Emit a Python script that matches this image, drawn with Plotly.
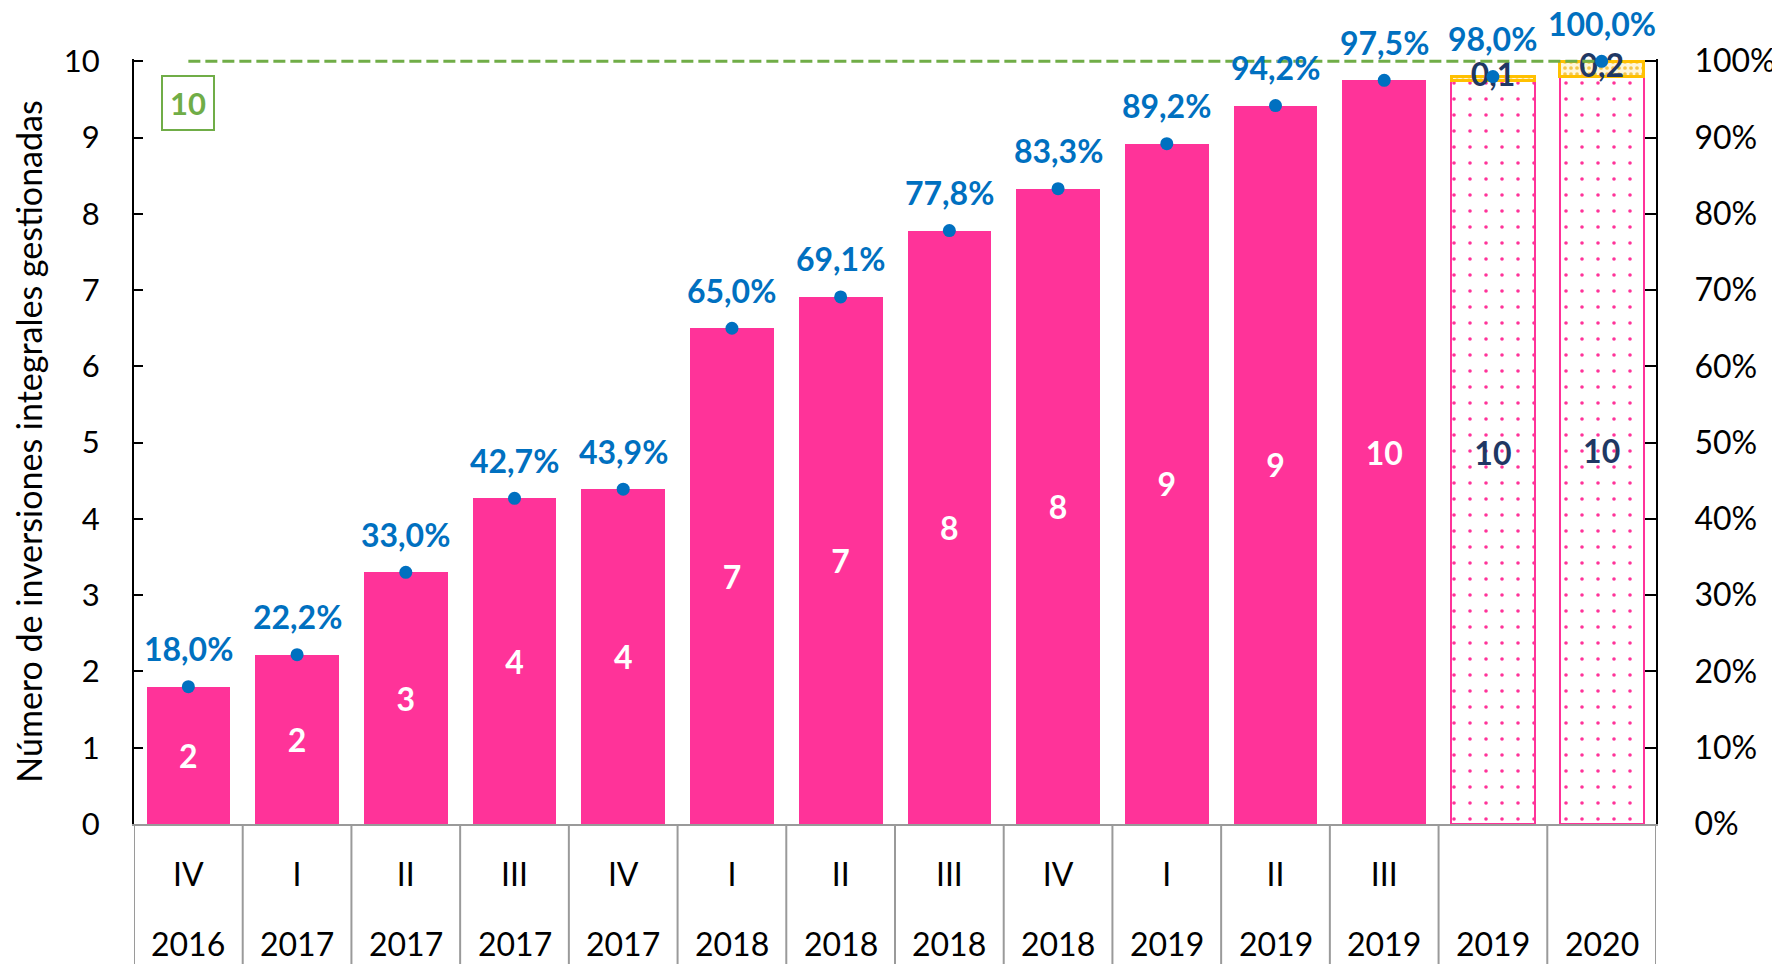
import plotly.graph_objects as go

# ---------------- data ----------------
quarters = ["IV", "I", "II", "III", "IV", "I", "II", "III", "IV", "I", "II", "III", "", ""]
years = ["2016", "2017", "2017", "2017", "2017", "2018", "2018", "2018", "2018",
         "2019", "2019", "2019", "2019", "2020"]
categories = [f"{q} {y}".strip() + ("*" if q == "" else "") for q, y in zip(quarters, years)]

solid_values = [1.80, 2.22, 3.30, 4.27, 4.39, 6.50, 6.91, 7.78, 8.33, 8.92, 9.42, 9.75]
solid_labels = ["2", "2", "3", "4", "4", "7", "7", "8", "8", "9", "9", "10"]

planned_values = [9.75, 9.80]
planned_labels = ["10", "10"]

extra_values = [0.05, 0.20]
extra_labels = ["0,1", "0,2"]

pct_values = [18.0, 22.2, 33.0, 42.7, 43.9, 65.0, 69.1, 77.8, 83.3, 89.2, 94.2, 97.5, 98.0, 100.0]
pct_labels = [f"{v:.1f}".replace(".", ",") + "%" for v in pct_values]

target = 10
target_label = "10"

y_ticks = list(range(0, 11))
y2_ticks = list(range(0, 101, 10))
y2_ticktext = [f"{v}%" for v in y2_ticks]

# ---------------- style ----------------
FONT = "Lato"
PINK = "#FF3399"
BLUE = "#0070C0"
NAVY = "#1F3864"
GREEN = "#70AD47"
GOLD = "#FFC000"
GRAY = "#9A9A9A"
Y_TOP = 10.03   # a hair above 10 so the dashed target line is not clipped

solid_cats = categories[:len(solid_values)]
planned_cats = categories[len(solid_values):]

fig = go.Figure()

fig.add_trace(go.Bar(
    x=solid_cats, y=solid_values, text=solid_labels,
    textposition="inside", insidetextanchor="middle",
    textfont=dict(family=FONT, size=32, color="white", weight="bold"),
    marker=dict(color=PINK, line=dict(width=0)),
    constraintext="none", showlegend=False, hoverinfo="skip",
))

fig.add_trace(go.Bar(
    x=planned_cats, y=planned_values, text=planned_labels,
    textposition="inside", insidetextanchor="middle",
    textfont=dict(family=FONT, size=32, color=NAVY, weight="bold"),
    marker=dict(color=PINK, line=dict(width=2, color=PINK),
                pattern=dict(shape=".", fillmode="replace", bgcolor="white",
                             fgcolor=PINK, size=16, solidity=0.04)),
    constraintext="none", showlegend=False, hoverinfo="skip",
))

fig.add_trace(go.Bar(
    x=planned_cats, y=extra_values,
    marker=dict(color=GOLD, line=dict(width=3, color=GOLD),
                pattern=dict(shape=".", fillmode="replace", bgcolor="#FFF6DA",
                             fgcolor="#F5C84A", size=6, solidity=0.3)),
    showlegend=False, hoverinfo="skip",
))

# labels of the small top segments
fig.add_trace(go.Scatter(
    x=planned_cats, y=[p + e / 2 for p, e in zip(planned_values, extra_values)],
    mode="text", text=extra_labels, textposition="middle center",
    textfont=dict(family=FONT, size=32, color=NAVY, weight="bold"),
    showlegend=False, hoverinfo="skip", cliponaxis=False,
))

# target line
fig.add_trace(go.Scatter(
    x=categories, y=[target] * len(categories), mode="lines",
    line=dict(color=GREEN, width=3, dash="12px,5px"),
    showlegend=False, hoverinfo="skip", cliponaxis=False,
))

# percentage markers
fig.add_trace(go.Scatter(
    x=categories, y=pct_values, yaxis="y2", mode="markers",
    marker=dict(color=BLUE, size=13),
    showlegend=False, hoverinfo="skip", cliponaxis=False,
))

annotations = []
for c, v, t in zip(categories, pct_values, pct_labels):
    annotations.append(dict(x=c, y=v, xref="x", yref="y2", text=t, showarrow=False,
                            yshift=38, font=dict(family=FONT, size=32, color=BLUE, weight="bold")))
for c, yv in zip(categories, years):
    annotations.append(dict(x=c, y=-0.156, xref="x", yref="paper", text=yv, showarrow=False,
                            yanchor="middle", font=dict(family=FONT, size=32, color="black")))
annotations.append(dict(x=categories[0], y=9.45, xref="x", yref="y", text=target_label,
                        showarrow=False, font=dict(family=FONT, size=31, color=GREEN, weight="bold"),
                        bordercolor=GREEN, borderwidth=2, borderpad=7, bgcolor="white"))

shapes = []
for i in range(len(categories) + 1):
    shapes.append(dict(type="line", xref="x", yref="paper", x0=i - 0.5, x1=i - 0.5,
                       y0=0, y1=-0.25, line=dict(color=GRAY, width=2)))

# the page body adds an 8 px offset; compensate in size and margins
fig.update_layout(
    width=1772, height=956,
    margin=dict(l=126, r=124, t=51, b=140, autoexpand=False),
    paper_bgcolor="white", plot_bgcolor="white",
    barmode="stack", bargap=0.23,
    font=dict(family=FONT, size=30, color="black"),
    xaxis=dict(type="category", categoryorder="array", categoryarray=categories,
               tickvals=categories, ticktext=quarters, ticks="",
               tickfont=dict(family=FONT, size=32, color="black"),
               ticklabelstandoff=22,
               showline=True, linecolor=GRAY, linewidth=2, showgrid=False,
               range=[-0.5, len(categories) - 0.5]),
    yaxis=dict(range=[0, Y_TOP], tickvals=y_ticks, ticks="inside", ticklen=9,
               tickcolor="black", tickwidth=2, showline=True, linecolor="black",
               linewidth=2, showgrid=False, zeroline=False,
               tickfont=dict(family=FONT, size=31), ticklabelstandoff=26,
               title=dict(text="Número de inversiones integrales gestionadas",
                          font=dict(family=FONT, size=34), standoff=20)),
    yaxis2=dict(range=[0, Y_TOP * 10], tickvals=y2_ticks, ticktext=y2_ticktext, overlaying="y",
                side="right", ticks="inside", ticklen=11, tickcolor="black", tickwidth=2,
                showline=True, linecolor="black", linewidth=2, showgrid=False,
                zeroline=False, tickfont=dict(family=FONT, size=32), ticklabelstandoff=30),
    annotations=annotations, shapes=shapes,
)

fig.write_html("out.html")
